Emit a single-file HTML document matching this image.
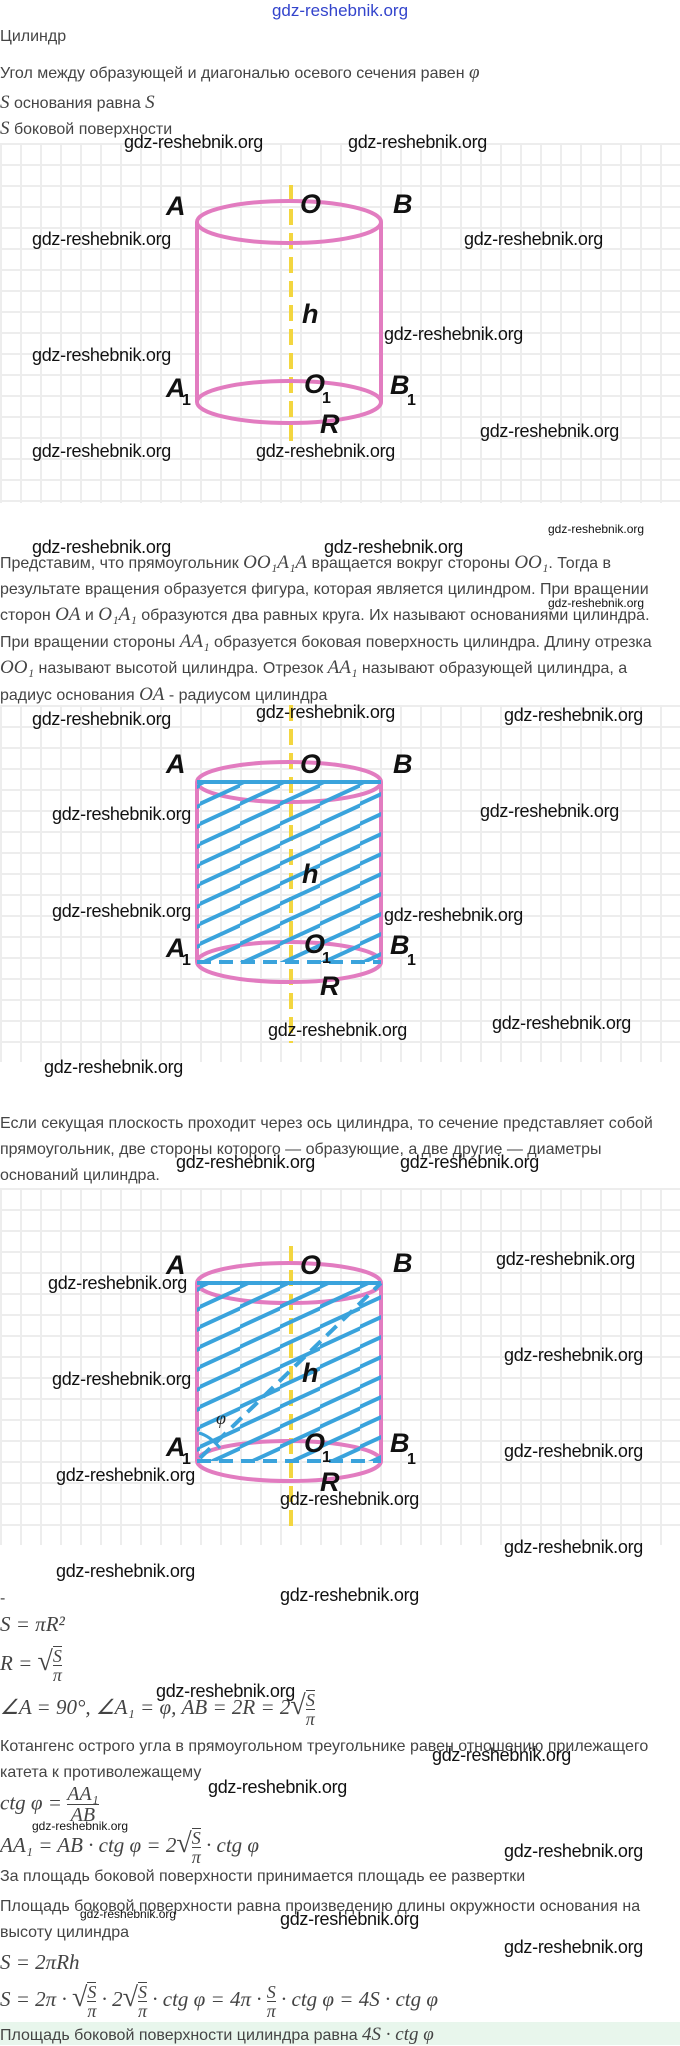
<!DOCTYPE html>
<html><head><meta charset="utf-8">
<style>
body{margin:0;width:680px;height:2045px;position:relative;background:#fff;overflow:hidden;font-family:"Liberation Sans","DejaVu Sans",sans-serif;color:#444;}
.a{position:absolute;white-space:nowrap;}
.t{font-size:16px;}
.w{position:absolute;white-space:nowrap;font-size:18px;color:#111;letter-spacing:-0.3px;}
.ws{position:absolute;white-space:nowrap;font-size:12px;color:#111;}
.g{position:absolute;left:0;width:680px;background-color:#fff;
background-image:linear-gradient(#ededed 2px,transparent 2px),linear-gradient(90deg,#ededed 2px,transparent 2px);
background-size:20px 21px;}
.m{font-family:"Liberation Serif",serif;font-style:italic;font-size:19px;}
.f{display:inline-block;vertical-align:middle;text-align:center;font-size:18px;line-height:18px;border-top:1px solid #444;}
.f>span{border-bottom:1px solid #444;display:block;}
svg{position:absolute;left:0;}
.lb{font-family:"Liberation Sans",sans-serif;font-style:italic;font-weight:bold;font-size:27px;fill:#111;}
.sb{font-family:"Liberation Sans",sans-serif;font-weight:bold;font-size:16px;fill:#111;}
</style></head><body>

<div class="a" style="left:0;width:680px;text-align:center;top:1px;font-size:17px;color:#3344cc;">gdz-reshebnik.org</div>
<div class="a t" style="left:0;top:28px;">Цилиндр</div>
<div class="a t" style="left:0;top:62px;">Угол между образующей и диагональю осевого сечения равен <span class="m">φ</span></div>
<div class="a t" style="left:0;top:92px;"><span class="m">S</span> основания равна <span class="m">S</span></div>
<div class="a t" style="left:0;top:118px;"><span class="m">S</span> боковой поверхности</div>

<div class="g" style="top:143px;height:360px;"></div>
<svg width="680" height="360" style="top:143px">
<line x1="291" y1="42" x2="291" y2="300" stroke="#f3d640" stroke-width="4" stroke-dasharray="16 8"/>
<g fill="none" stroke="#e27cc0" stroke-width="4">
<ellipse cx="289" cy="79" rx="92" ry="21"/>
<ellipse cx="289" cy="259" rx="92" ry="21"/>
<line x1="197" y1="79" x2="197" y2="259"/><line x1="381" y1="79" x2="381" y2="259"/>
</g>
<text class="lb" x="166" y="72">A</text><text class="lb" x="300" y="70">O</text><text class="lb" x="393" y="70">B</text>
<text class="lb" x="302" y="180">h</text>
<text class="lb" x="166" y="254">A</text><text class="sb" x="182" y="262">1</text>
<text class="lb" x="304" y="250">O</text><text class="sb" x="322" y="260">1</text>
<text class="lb" x="390" y="251">B</text><text class="sb" x="407" y="262">1</text>
<text class="lb" x="320" y="290">R</text>
</svg>
<div class="w" style="left:124px;top:132px;">gdz-reshebnik.org</div>
<div class="w" style="left:348px;top:132px;">gdz-reshebnik.org</div>
<div class="w" style="left:32px;top:229px;">gdz-reshebnik.org</div>
<div class="w" style="left:464px;top:229px;">gdz-reshebnik.org</div>
<div class="w" style="left:384px;top:324px;">gdz-reshebnik.org</div>
<div class="w" style="left:32px;top:345px;">gdz-reshebnik.org</div>
<div class="w" style="left:480px;top:421px;">gdz-reshebnik.org</div>
<div class="w" style="left:32px;top:441px;">gdz-reshebnik.org</div>
<div class="w" style="left:256px;top:441px;">gdz-reshebnik.org</div>

<div class="ws" style="left:548px;top:522px;">gdz-reshebnik.org</div>
<div class="a t" style="left:0;top:550px;line-height:25.6px;">
Представим, что прямоугольник <span class="m">OO₁A₁A</span> вращается вокруг стороны <span class="m">OO₁</span>. Тогда в<br>
результате вращения образуется фигура, которая является цилиндром. При вращении<br>
сторон <span class="m">OA</span> и <span class="m">O₁A₁</span> образуются два равных круга. Их называют основаниями цилиндра.<br>
При вращении стороны <span class="m">AA₁</span> образуется боковая поверхность цилиндра. Длину отрезка<br>
<span class="m">OO₁</span> называют высотой цилиндра. Отрезок <span class="m">AA₁</span> называют образующей цилиндра, а<br>
радиус основания <span class="m">OA</span> - радиусом цилиндра</div>
<div class="w" style="left:32px;top:537px;">gdz-reshebnik.org</div>
<div class="w" style="left:324px;top:537px;">gdz-reshebnik.org</div>
<div class="ws" style="left:548px;top:596px;">gdz-reshebnik.org</div>

<div class="g" style="top:705px;height:357px;"></div>
<svg width="680" height="359" style="top:703px">
<defs><clipPath id="c2"><rect x="197" y="79" width="184" height="180"/></clipPath>
<pattern id="h" width="40" height="20" patternUnits="userSpaceOnUse"><path d="M-20 30 L60 -6.8 M-20 10 L60 -26.8 M-20 50 L60 13.2" stroke="#3aa3dc" stroke-width="4"/></pattern></defs>
<line x1="291" y1="2" x2="291" y2="340" stroke="#f3d640" stroke-width="4" stroke-dasharray="16 8"/>
<g fill="none" stroke="#e27cc0" stroke-width="4">
<ellipse cx="289" cy="79" rx="92" ry="20"/>
<ellipse cx="289" cy="259" rx="92" ry="20"/>
<line x1="197" y1="79" x2="197" y2="259"/><line x1="381" y1="79" x2="381" y2="259"/>
</g>
<rect x="197" y="79" width="184" height="180" fill="url(#h)" clip-path="url(#c2)"/>
<line x1="197" y1="79" x2="381" y2="79" stroke="#3aa3dc" stroke-width="4"/>
<line x1="197" y1="259" x2="381" y2="259" stroke="#3aa3dc" stroke-width="4" stroke-dasharray="14 8"/>
<text class="lb" x="166" y="70">A</text><text class="lb" x="300" y="70">O</text><text class="lb" x="393" y="70">B</text>
<text class="lb" x="302" y="180">h</text>
<text class="lb" x="166" y="254">A</text><text class="sb" x="182" y="262">1</text>
<text class="lb" x="304" y="250">O</text><text class="sb" x="322" y="260">1</text>
<text class="lb" x="390" y="251">B</text><text class="sb" x="407" y="262">1</text>
<text class="lb" x="320" y="292">R</text>
</svg>
<div class="w" style="left:32px;top:709px;">gdz-reshebnik.org</div>
<div class="w" style="left:256px;top:702px;">gdz-reshebnik.org</div>
<div class="w" style="left:504px;top:705px;">gdz-reshebnik.org</div>
<div class="w" style="left:52px;top:804px;">gdz-reshebnik.org</div>
<div class="w" style="left:480px;top:801px;">gdz-reshebnik.org</div>
<div class="w" style="left:52px;top:901px;">gdz-reshebnik.org</div>
<div class="w" style="left:384px;top:905px;">gdz-reshebnik.org</div>
<div class="w" style="left:268px;top:1020px;">gdz-reshebnik.org</div>
<div class="w" style="left:492px;top:1013px;">gdz-reshebnik.org</div>
<div class="w" style="left:44px;top:1057px;">gdz-reshebnik.org</div>

<div class="a t" style="left:0;top:1111px;line-height:26px;">Если секущая плоскость проходит через ось цилиндра, то сечение представляет собой<br>прямоугольник, две стороны которого — образующие, а две другие — диаметры<br>оснований цилиндра.</div>
<div class="w" style="left:176px;top:1152px;">gdz-reshebnik.org</div>
<div class="w" style="left:400px;top:1152px;">gdz-reshebnik.org</div>

<div class="g" style="top:1188px;height:357px;"></div>
<svg width="680" height="359" style="top:1186px">
<defs><clipPath id="c3"><rect x="197" y="97" width="184" height="178"/></clipPath></defs>
<line x1="291" y1="60" x2="291" y2="345" stroke="#f3d640" stroke-width="4" stroke-dasharray="16 8"/>
<g fill="none" stroke="#e27cc0" stroke-width="4">
<ellipse cx="289" cy="97" rx="92" ry="20"/>
<ellipse cx="289" cy="275" rx="92" ry="20"/>
<line x1="197" y1="97" x2="197" y2="275"/><line x1="381" y1="97" x2="381" y2="275"/>
</g>
<rect x="197" y="97" width="184" height="178" fill="url(#h)" clip-path="url(#c3)"/>
<line x1="197" y1="97" x2="381" y2="97" stroke="#3aa3dc" stroke-width="4"/>
<line x1="197" y1="275" x2="381" y2="275" stroke="#3aa3dc" stroke-width="4" stroke-dasharray="14 8"/>
<line x1="200" y1="272" x2="381" y2="97" stroke="#3aa3dc" stroke-width="4" stroke-dasharray="14 8"/>
<path d="M199 247 Q210 250 220 262" fill="none" stroke="#3aa3dc" stroke-width="3"/>
<text x="216" y="238" font-family="Liberation Serif,serif" font-style="italic" font-size="18" fill="#222">φ</text>
<text class="lb" x="166" y="88">A</text><text class="lb" x="300" y="88">O</text><text class="lb" x="393" y="86">B</text>
<text class="lb" x="302" y="196">h</text>
<text class="lb" x="166" y="270">A</text><text class="sb" x="182" y="278">1</text>
<text class="lb" x="304" y="266">O</text><text class="sb" x="322" y="276">1</text>
<text class="lb" x="390" y="266">B</text><text class="sb" x="407" y="278">1</text>
<text class="lb" x="320" y="305">R</text>
</svg>
<div class="w" style="left:496px;top:1249px;">gdz-reshebnik.org</div>
<div class="w" style="left:48px;top:1273px;">gdz-reshebnik.org</div>
<div class="w" style="left:504px;top:1345px;">gdz-reshebnik.org</div>
<div class="w" style="left:52px;top:1369px;">gdz-reshebnik.org</div>
<div class="w" style="left:504px;top:1441px;">gdz-reshebnik.org</div>
<div class="w" style="left:56px;top:1465px;">gdz-reshebnik.org</div>
<div class="w" style="left:280px;top:1489px;">gdz-reshebnik.org</div>
<div class="w" style="left:504px;top:1537px;">gdz-reshebnik.org</div>
<div class="w" style="left:56px;top:1561px;">gdz-reshebnik.org</div>
<div class="w" style="left:280px;top:1585px;">gdz-reshebnik.org</div>

<div class="a t" style="left:0;top:1590px;">-</div>
<div class="a m" style="left:0;top:1612px;font-size:21px;">S = πR²</div>
<div class="a m" style="left:0;top:1646px;font-size:21px;">R = <span style="font-size:28px;font-style:normal;">√</span><span class="f"><span>S</span>π</span></div>
<div class="a m" style="left:0;top:1690px;font-size:21px;">∠A = 90°, ∠A₁ = φ, AB = 2R = 2<span style="font-size:28px;font-style:normal;">√</span><span class="f"><span>S</span>π</span></div>
<div class="w" style="left:156px;top:1681px;">gdz-reshebnik.org</div>
<div class="a t" style="left:0;top:1734px;line-height:26px;">Котангенс острого угла в прямоугольном треугольнике равен отношению прилежащего<br>катета к противолежащему</div>
<div class="w" style="left:432px;top:1745px;">gdz-reshebnik.org</div>
<div class="a m" style="left:0;top:1784px;font-size:21px;">ctg φ = <span class="f" style="border-top:none;font-size:20px;line-height:20px;"><span>AA₁</span>AB</span></div>
<div class="w" style="left:208px;top:1777px;">gdz-reshebnik.org</div>
<div class="ws" style="left:32px;top:1819px;">gdz-reshebnik.org</div>
<div class="a m" style="left:0;top:1828px;font-size:21px;">AA₁ = AB · ctg φ = 2<span style="font-size:28px;font-style:normal;">√</span><span class="f"><span>S</span>π</span> · ctg φ</div>
<div class="w" style="left:504px;top:1841px;">gdz-reshebnik.org</div>
<div class="a t" style="left:0;top:1868px;">За площадь боковой поверхности принимается площадь ее развертки</div>
<div class="a t" style="left:0;top:1894px;line-height:26px;">Площадь боковой поверхности равна произведению длины окружности основания на<br>высоту цилиндра</div>
<div class="ws" style="left:80px;top:1907px;">gdz-reshebnik.org</div>
<div class="w" style="left:280px;top:1909px;">gdz-reshebnik.org</div>
<div class="w" style="left:504px;top:1937px;">gdz-reshebnik.org</div>
<div class="a m" style="left:0;top:1950px;font-size:21px;">S = 2πRh</div>
<div class="a m" style="left:0;top:1982px;font-size:21px;">S = 2π · <span style="font-size:28px;font-style:normal;">√</span><span class="f"><span>S</span>π</span> · 2<span style="font-size:28px;font-style:normal;">√</span><span class="f"><span>S</span>π</span> · ctg φ = 4π · <span class="f" style="border-top:none;"><span>S</span>π</span> · ctg φ = 4S · ctg φ</div>
<div class="a" style="left:0;top:2022px;width:680px;height:23px;background:#e8f6ec;"></div>
<div class="a t" style="left:0;top:2024px;">Площадь боковой поверхности цилиндра равна <span class="m">4S · ctg φ</span></div>
</body></html>
